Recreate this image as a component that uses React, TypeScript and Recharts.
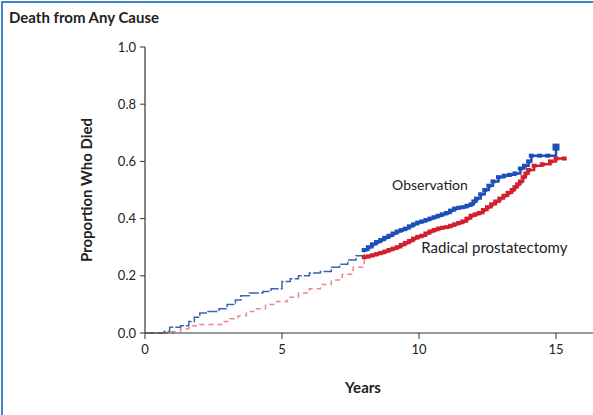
import { LineChart, Line, XAxis, YAxis, ReferenceDot } from 'recharts';

// Kaplan-Meier estimates, cumulative proportion who died by year
const observationYears = [
  0, 0.7, 0.9, 1.3, 1.6, 1.8, 2.0, 2.3, 2.7, 3.0, 3.3, 3.5, 3.8, 4.3, 4.6, 5.0, 5.3, 5.6, 6.0, 6.4,
  6.8, 7.1, 7.4, 7.7, 8.0, 8.15, 8.3, 8.45, 8.6, 8.75, 8.9, 9.05, 9.2, 9.35, 9.5, 9.65, 9.8, 9.95,
  10.1, 10.25, 10.4, 10.55, 10.7, 10.85, 11.0, 11.15, 11.3, 11.45, 11.6, 11.75, 11.9, 12.0, 12.1,
  12.25, 12.4, 12.55, 12.7, 12.9, 13.1, 13.3, 13.5, 13.7, 13.85, 14.0, 14.1, 14.4, 14.7, 15.0,
];
const observationValues = [
  0, 0.005, 0.02, 0.025, 0.04, 0.055, 0.07, 0.075, 0.085, 0.1, 0.115, 0.13, 0.14, 0.145, 0.155, 0.18,
  0.19, 0.2, 0.21, 0.215, 0.23, 0.24, 0.255, 0.27, 0.29, 0.3, 0.31, 0.318, 0.325, 0.333, 0.34, 0.348,
  0.355, 0.36, 0.365, 0.373, 0.38, 0.386, 0.39, 0.395, 0.4, 0.405, 0.41, 0.415, 0.42, 0.428, 0.435,
  0.438, 0.44, 0.445, 0.45, 0.46, 0.47, 0.485, 0.5, 0.515, 0.53, 0.545, 0.55, 0.553, 0.558, 0.575,
  0.585, 0.6, 0.62, 0.62, 0.62, 0.65,
];

const surgeryYears = [
  0, 1.0, 1.3, 1.6, 2.0, 2.4, 2.8, 3.1, 3.4, 3.7, 4.0, 4.4, 4.8, 5.2, 5.6, 6.0, 6.4, 6.8, 7.2, 7.6,
  8.0, 8.15, 8.3, 8.45, 8.6, 8.75, 8.9, 9.05, 9.2, 9.35, 9.5, 9.65, 9.8, 9.95, 10.1, 10.25, 10.4,
  10.55, 10.7, 10.85, 11.0, 11.15, 11.3, 11.45, 11.6, 11.75, 11.9, 12.05, 12.2, 12.35, 12.5, 12.65,
  12.8, 12.95, 13.1, 13.25, 13.4, 13.5, 13.6, 13.7, 13.8, 13.9, 14.0, 14.2, 14.5, 14.8, 15.0, 15.3,
];
const surgeryValues = [
  0, 0.005, 0.015, 0.025, 0.03, 0.03, 0.04, 0.05, 0.06, 0.075, 0.085, 0.1, 0.11, 0.125, 0.14, 0.155,
  0.17, 0.185, 0.205, 0.23, 0.265, 0.268, 0.272, 0.276, 0.28, 0.285, 0.29, 0.295, 0.3, 0.308, 0.315,
  0.322, 0.33, 0.336, 0.34, 0.348, 0.355, 0.36, 0.365, 0.368, 0.37, 0.375, 0.38, 0.385, 0.39, 0.4,
  0.41, 0.415, 0.42, 0.43, 0.44, 0.45, 0.46, 0.47, 0.48, 0.49, 0.5, 0.51, 0.52, 0.53, 0.545, 0.558,
  0.57, 0.585, 0.59, 0.6, 0.61, 0.61,
];

const xTicks = [0, 5, 10, 15];
const yTicks = [0, 0.2, 0.4, 0.6, 0.8, 1.0];

// curves are drawn thin up to year 8 and heavy after that
const SPLIT_YEAR = 8;

function toPoints(years: number[], values: number[]) {
  return years.map((year, i) => ({ year, value: values[i] }));
}

const observation = toPoints(observationYears, observationValues);
const surgery = toPoints(surgeryYears, surgeryValues);

const obsEarly = observation.filter((p) => p.year <= SPLIT_YEAR);
const obsLate = observation.filter((p) => p.year >= SPLIT_YEAR);
const surgEarly = surgery.filter((p) => p.year <= SPLIT_YEAR);
const surgLate = surgery.filter((p) => p.year >= SPLIT_YEAR);

const FONT = 'Lato, "Liberation Sans", sans-serif';
const BLUE = '#1e4fb8';
const RED = '#d21f2e';

function censorMark(color: string, lastIndex: number) {
  return (props: any) => {
    const { cx, cy, index } = props;
    if (cx == null || cy == null) return <g key={`m-${index}`} />;
    if (index === lastIndex && color === BLUE) {
      return <rect key={`m-${index}`} x={cx - 3.5} y={cy - 3.5} width={7} height={7} fill={color} />;
    }
    return <rect key={`m-${index}`} x={cx - 2.5} y={cy - 2} width={5} height={4} fill={color} />;
  };
}

export default function App() {
  return (
    <div style={{ position: 'absolute', left: 0, top: 0, width: 593, height: 415, background: '#fff', fontFamily: FONT }}>
      <div
        style={{
          position: 'absolute',
          left: 1,
          top: 1,
          width: 592,
          height: 414,
          borderLeft: '2px solid #3f86c8',
          borderTop: '2px solid #3f86c8',
          boxSizing: 'border-box',
        }}
      />
      <div style={{ position: 'absolute', left: 9, top: 8, fontSize: 15, fontWeight: 700, color: '#222' }}>
        Death from Any Cause
      </div>
      <div
        style={{
          position: 'absolute',
          left: 86,
          top: 190,
          transform: 'translate(-50%, -50%) rotate(-90deg)',
          whiteSpace: 'nowrap',
          fontSize: 15,
          fontWeight: 700,
          color: '#222',
        }}
      >
        Proportion Who Died
      </div>
      <div
        style={{
          position: 'absolute',
          left: 363,
          top: 387,
          transform: 'translate(-50%, -50%)',
          fontSize: 15,
          fontWeight: 700,
          color: '#222',
        }}
      >
        Years
      </div>

      <LineChart
        width={593}
        height={415}
        margin={{ top: 47, right: 0, left: 85, bottom: 52 }}
        style={{ position: 'absolute', left: 0, top: 0 }}
      >
        <XAxis
          type="number"
          dataKey="year"
          domain={[0, 16.35]}
          ticks={xTicks}
          allowDataOverflow
          height={30}
          tickSize={6}
          tickMargin={6}
          axisLine={{ stroke: '#333', strokeWidth: 1.2 }}
          tickLine={{ stroke: '#333' }}
          tick={{ fill: '#222', fontSize: 13, fontFamily: FONT }}
        />
        <YAxis
          type="number"
          dataKey="value"
          domain={[0, 1]}
          ticks={yTicks}
          width={60}
          tickSize={5}
          tickMargin={4}
          tickFormatter={(v: number) => v.toFixed(1)}
          axisLine={{ stroke: '#333', strokeWidth: 1.2 }}
          tickLine={{ stroke: '#333' }}
          tick={{ fill: '#222', fontSize: 13, fontFamily: FONT }}
        />

        <Line
          data={obsEarly}
          dataKey="value"
          type="stepAfter"
          stroke="#3a66b0"
          strokeWidth={1.5}
          strokeDasharray="10 2"
          dot={false}
          isAnimationActive={false}
        />
        <Line
          data={surgEarly}
          dataKey="value"
          type="stepAfter"
          stroke="#ee8589"
          strokeWidth={1.5}
          strokeDasharray="5 4"
          dot={false}
          isAnimationActive={false}
        />
        <Line
          data={surgLate}
          dataKey="value"
          type="stepAfter"
          stroke={RED}
          strokeWidth={2.5}
          dot={censorMark(RED, surgLate.length - 1)}
          isAnimationActive={false}
        />
        <Line
          data={obsLate}
          dataKey="value"
          type="stepAfter"
          stroke={BLUE}
          strokeWidth={2.5}
          dot={censorMark(BLUE, obsLate.length - 1)}
          isAnimationActive={false}
        />

        <ReferenceDot
          x={10.4}
          y={0.517}
          r={0}
          fill="none"
          stroke="none"
          label={{ value: 'Observation', position: 'center', fill: '#222', fontSize: 14, fontFamily: FONT }}
        />
        <ReferenceDot
          x={12.75}
          y={0.297}
          r={0}
          fill="none"
          stroke="none"
          label={{ value: 'Radical prostatectomy', position: 'center', fill: '#222', fontSize: 15, fontFamily: FONT }}
        />
      </LineChart>
    </div>
  );
}
